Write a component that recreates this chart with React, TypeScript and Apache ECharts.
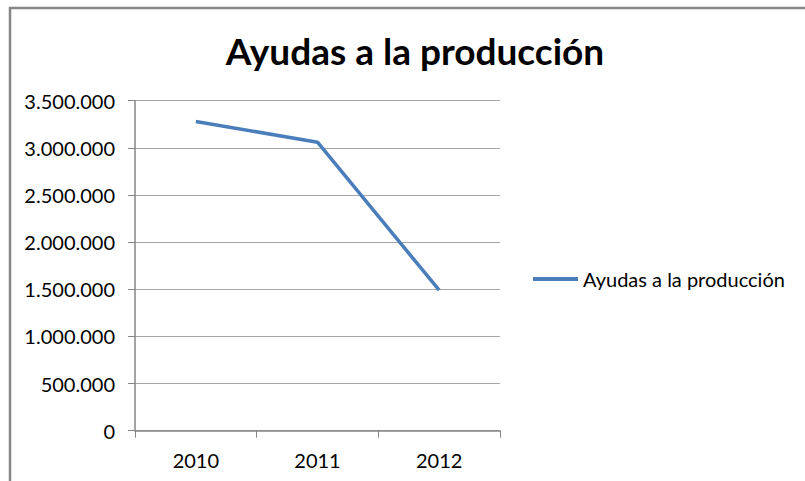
import React, { useEffect, useRef } from "react";
import * as echarts from "echarts";

const categories = ["2010", "2011", "2012"];
const seriesName = "Ayudas a la producción";
const values = [3280000, 3060000, 1490000];
const titleText = "Ayudas a la producción";

const fmt = (v: number) => {
  const s = Math.round(v).toString();
  return s.replace(/\B(?=(\d{3})+(?!\d))/g, ".");
};

export default function App() {
  const ref = useRef<HTMLDivElement>(null);
  useEffect(() => {
    if (!ref.current) return;
    const chart = echarts.init(ref.current, null, { renderer: "svg" });
    const font = "Lato, 'Open Sans', sans-serif";
    chart.setOption({
      animation: false,
      backgroundColor: "#ffffff",
      textStyle: { fontFamily: font },
      title: {
        text: titleText,
        left: 410,
        textAlign: "center",
        top: 27,
        textStyle: { fontFamily: font, fontWeight: "bold", fontSize: 37, color: "#000000" },
      },
      graphic: [
        {
          type: "rect",
          shape: { x: 10, y: 8, width: 900, height: 600 },
          style: { fill: "none", stroke: "#868686", lineWidth: 2.5 },
          z: 100,
        },
      ],
      legend: {
        left: 533,
        top: 269,
        padding: 0,
        orient: "vertical",
        icon: "path://M0,0 L45,0 L45,4 L0,4 Z",
        itemWidth: 45,
        itemHeight: 4,
        itemGap: 4,
        textStyle: { fontFamily: font, fontSize: 20, color: "#000000" },
        data: [seriesName],
      },
      grid: { left: 135, right: 305, top: 100.7, bottom: 50.3, containLabel: false },
      xAxis: {
        type: "category",
        data: categories,
        boundaryGap: true,
        axisLine: { lineStyle: { color: "#868686", width: 1.5 } },
        axisTick: { show: true, length: 7, lineStyle: { color: "#868686" } },
        axisLabel: { color: "#000000", fontSize: 20, fontFamily: font, margin: 19 },
      },
      yAxis: {
        type: "value",
        min: 0,
        max: 3500000,
        interval: 500000,
        axisLine: { show: true, lineStyle: { color: "#868686", width: 1.5 } },
        axisTick: { show: true, length: 7, lineStyle: { color: "#868686" } },
        splitLine: { lineStyle: { color: "#a6a6a6", width: 1.2 } },
        axisLabel: { color: "#000000", fontSize: 20, fontFamily: font, margin: 20, formatter: (v: number) => fmt(v) },
      },
      series: [
        {
          name: seriesName,
          type: "line",
          data: values,
          symbol: "none",
          lineStyle: { color: "#4a7ebb", width: 3.5 },
          itemStyle: { color: "#4a7ebb" },
        },
      ],
    });
    return () => chart.dispose();
  }, []);
  return <div ref={ref} style={{ width: 805, height: 481, position: "absolute", left: 0, top: 0 }} />;
}
